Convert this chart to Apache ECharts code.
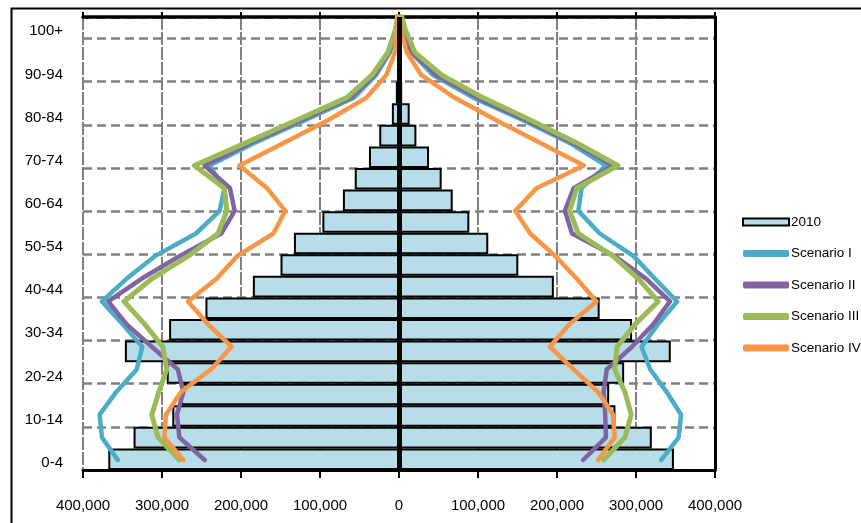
<!DOCTYPE html>
<html>
<head>
<meta charset="utf-8">
<script src="https://cdn.jsdelivr.net/npm/echarts@6/dist/echarts.min.js"></script>
<style>
  html, body { margin: 0; padding: 0; background: #fff; }
  #chart { width: 861px; height: 523px; }
</style>
</head>
<body>
<div id="chart"></div>
<script>
// age groups, bottom to top
const ageGroups = ['0-4', '5-9', '10-14', '15-19', '20-24', '25-29', '30-34', '35-39', '40-44', '45-49',
  '50-54', '55-59', '60-64', '65-69', '70-74', '75-79', '80-84', '85-89', '90-94', '95-99', '100+'];

// 2010 population, left and right half of the pyramid
const left2010 = [368000, 336000, 287000, 276000, 294000, 347000, 291000, 245000, 185000, 150000,
  133000, 97000, 71000, 56000, 38000, 25000, 9000, 4000, 2000, 500, 100];
const right2010 = [348000, 320000, 274000, 266000, 285000, 344000, 295000, 254000, 196000, 151000,
  113000, 89000, 68000, 54000, 38000, 22000, 13500, 4000, 2000, 500, 100];

// scenarios (left side / right side), bottom to top
const scen1Left = [356000, 376000, 379000, 358000, 332000, 325000, 350000, 376000, 345000, 309000,
  257000, 227000, 221000, 240000, 183000, 119000, 57000, 29000, 11500, 3500, 0];
const scen1Right = [332000, 354000, 357000, 339000, 318000, 307000, 328000, 352000, 324000, 297000,
  254000, 227000, 231000, 262000, 216000, 157000, 94000, 43000, 15000, 3000, 0];
const scen2Left = [246000, 278000, 281000, 273000, 280000, 313000, 345000, 368000, 326000, 278000,
  225000, 208000, 214000, 246000, 188000, 124000, 61000, 31000, 12500, 4000, 0];
const scen2Right = [233000, 262000, 261000, 259000, 263000, 295000, 322000, 343000, 313000, 273000,
  219000, 210000, 221000, 271000, 220000, 161000, 99000, 47000, 16500, 4000, 0];
const scen3Left = [278000, 305000, 313000, 304000, 294000, 299000, 322000, 348000, 313000, 267000,
  229000, 218000, 221000, 259000, 194000, 130000, 66000, 34000, 14000, 4500, 0];
const scen3Right = [259000, 286000, 294000, 286000, 273000, 276000, 299000, 328000, 303000, 271000,
  227000, 216000, 225000, 277000, 225000, 167000, 106000, 54000, 20000, 8000, 0];
const scen4Left = [273000, 297000, 295000, 276000, 238000, 212000, 242000, 267000, 231000, 205000,
  159000, 144000, 167000, 202000, 146000, 90000, 41000, 16000, 5000, 1500, 0];
const scen4Right = [252000, 273000, 271000, 252000, 221000, 191000, 216000, 250000, 225000, 198000,
  166000, 147000, 174000, 234000, 179000, 123000, 70000, 28000, 10000, 2000, 0];

const xTicks = [-400000, 400000, 100000]; // min, max, step

const chart = echarts.init(document.getElementById('chart'));

// one polyline per scenario: left side going up, right side coming down
function outline(left, right) {
  const pts = left.map((v, i) => [-v, i]);
  for (let i = right.length - 1; i >= 0; i--) pts.push([right[i], i]);
  return pts;
}

function scenario(name, color, left, right, width) {
  return {
    name: name,
    type: 'line',
    xAxisIndex: 0,
    yAxisIndex: 1,
    data: outline(left, right),
    symbol: 'none',
    z: 4,
    lineStyle: { color: color, width: width, join: 'round', cap: 'round' },
    itemStyle: { color: color }
  };
}

const font = 'Liberation Sans, Arial, sans-serif';
const barStyle = { color: '#B7DEE8', borderColor: '#000', borderWidth: 2 };

const option = {
  animation: false,
  textStyle: { fontFamily: font },
  graphic: [{
    type: 'rect',
    shape: { x: 11.5, y: 8.5, width: 900, height: 600 },
    style: { fill: 'none', stroke: '#000', lineWidth: 2 },
    silent: true
  }],
  legend: {
    orient: 'vertical',
    left: 742,
    top: 215,
    padding: 0,
    itemWidth: 46,
    itemHeight: 7,
    itemGap: 17.5,
    textStyle: { fontFamily: font, fontSize: 13.5, color: '#000', padding: [0, 0, 0, -3] },
    data: [
      { name: '2010', icon: 'rect' },
      { name: 'Scenario I', icon: 'roundRect' },
      { name: 'Scenario II', icon: 'roundRect' },
      { name: 'Scenario III', icon: 'roundRect' },
      { name: 'Scenario IV', icon: 'roundRect' }
    ]
  },
  grid: { left: 83, right: 146, top: 17, bottom: 53 },
  xAxis: [{
    type: 'value',
    position: 'bottom',
    min: xTicks[0],
    max: xTicks[1],
    interval: xTicks[2],
    axisLine: { show: true, onZero: false, lineStyle: { color: '#000', width: 3 } },
    axisTick: { show: true, length: 8, lineStyle: { color: '#000', width: 2 } },
    axisLabel: {
      margin: 28,
      fontSize: 15,
      color: '#000',
      formatter: v => Math.abs(v).toLocaleString('en-US')
    },
    splitLine: { show: true, lineStyle: { color: '#808080', width: 2, type: [13, 2] } }
  }, {
    type: 'value',
    position: 'top',
    min: xTicks[0],
    max: xTicks[1],
    interval: xTicks[2],
    axisLine: { show: true, onZero: false, lineStyle: { color: '#000', width: 3.5 } },
    axisTick: { show: true, length: 5, lineStyle: { color: '#000', width: 2 } },
    axisLabel: { show: false },
    splitLine: { show: false }
  }],
  yAxis: [{
    type: 'category',
    data: ageGroups,
    position: 'left',
    axisLine: { show: false, onZero: false },
    axisTick: { show: false },
    axisLabel: { interval: 1, margin: 20, fontSize: 15, color: '#000', verticalAlign: 'top', lineHeight: 7 },
    splitLine: { show: true, interval: 1, lineStyle: { color: '#808080', width: 2.5, type: [9, 5] } }
  }, {
    // line positions: one unit per age group
    type: 'value',
    position: 'right',
    min: -0.4415,
    max: 19.5585,
    axisLine: { show: true, onZero: false, lineStyle: { color: '#000', width: 3 } },
    axisTick: { show: false },
    axisLabel: { show: false },
    splitLine: { show: false }
  }],
  series: [
    {
      name: '2010',
      type: 'bar',
      stack: 'pop',
      barCategoryGap: '0%',
      data: left2010.map(v => -v),
      itemStyle: barStyle,
      z: 2,
      markLine: {
        silent: true,
        symbol: 'none',
        label: { show: false },
        lineStyle: { color: '#000', width: 5, type: 'solid' },
        data: [{ xAxis: 0 }]
      }
    },
    {
      name: '2010',
      type: 'bar',
      stack: 'pop',
      barCategoryGap: '0%',
      data: right2010,
      itemStyle: barStyle,
      z: 2
    },
    scenario('Scenario I', '#4BACC6', scen1Left, scen1Right, 4.5),
    scenario('Scenario II', '#8064A2', scen2Left, scen2Right, 4.5),
    scenario('Scenario III', '#9BBB59', scen3Left, scen3Right, 5),
    scenario('Scenario IV', '#F79646', scen4Left, scen4Right, 4.5)
  ]
};

chart.setOption(option);
</script>
</body>
</html>
